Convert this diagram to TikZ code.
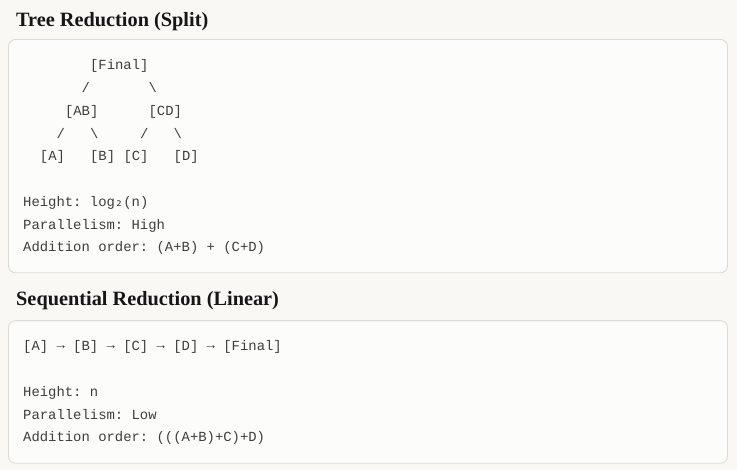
\documentclass[tikz,border=0pt]{standalone}
\usepackage{fontspec}
\setmainfont{Liberation Serif}
\newfontfamily\monof{Liberation Mono}
\newfontfamily\dvmono{DejaVu Sans Mono}
\definecolor{bgc}{RGB}{249,248,245}
\definecolor{boxfill}{RGB}{252,252,250}
\definecolor{boxline}{RGB}{222,220,215}
\definecolor{monotext}{RGB}{62,62,62}
\definecolor{titletext}{RGB}{22,22,22}
\newcommand\rarr{\raisebox{1.3pt}{→}}
\tikzset{
  panel/.style={draw=boxline, fill=boxfill, line width=0.9pt, rounded corners=7pt},
  titlestyle/.style={anchor=base west, inner sep=0pt, text=titletext, font=\fontsize{20.3}{24}\selectfont\bfseries},
  mono/.style={anchor=base west, inner sep=0pt, text=monotext, font=\fontsize{13.9}{16}\monof\frenchspacing},
}
\begin{document}
\begin{tikzpicture}[x=1pt,y=-1pt]
\def\cw{8.36}
\def\lx{23}
\fill[bgc] (0,0) rectangle (737,470);
\useasboundingbox (0,0) rectangle (737,470);
% titles
\node[titlestyle] (t1) at (16,27) {Tree Reduction (Split)};
\node[titlestyle] (t2) at (16,306) {Sequential Reduction (Linear)};
% panels
\draw[panel] (8.5,39.5) rectangle (727.5,272.8);
\draw[panel] (8.5,320.7) rectangle (727.5,463.3);
% tree
\node[mono] (final) at ({\lx+8*\cw},70) {[Final]};
\node[mono] (s1) at ({\lx+7*\cw},92.75) {/};
\node[mono] (b1) at ({\lx+15*\cw},92.75) {\symbol{92}};
\node[mono] (ab) at ({\lx+5*\cw},115.5) {[AB]};
\node[mono] (cd) at ({\lx+15*\cw},115.5) {[CD]};
\node[mono] (s2) at ({\lx+4*\cw},138.25) {/};
\node[mono] (b2) at ({\lx+8*\cw},138.25) {\symbol{92}};
\node[mono] (s3) at ({\lx+14*\cw},138.25) {/};
\node[mono] (b3) at ({\lx+18*\cw},138.25) {\symbol{92}};
\node[mono] (a) at ({\lx+2*\cw},161) {[A]};
\node[mono] (b) at ({\lx+8*\cw},161) {[B]};
\node[mono] (c) at ({\lx+12*\cw},161) {[C]};
\node[mono] (d) at ({\lx+18*\cw},161) {[D]};
\node[mono] (h1) at (\lx,206.5) {Height: log{\dvmono ₂}(n)};
\node[mono] (p1) at (\lx,229.25) {Parallelism: High};
\node[mono] (o1) at (\lx,252) {Addition order: (A+B) + (C+D)};
% sequential
\node[mono] (seq) at (\lx,351) {[A] \rarr{} [B] \rarr{} [C] \rarr{} [D] \rarr{} [Final]};
\node[mono] (h2) at (\lx,396.5) {Height: n};
\node[mono] (p2) at (\lx,419.25) {Parallelism: Low};
\node[mono] (o2) at (\lx,442) {Addition order: (((A+B)+C)+D)};
\end{tikzpicture}
\end{document}
